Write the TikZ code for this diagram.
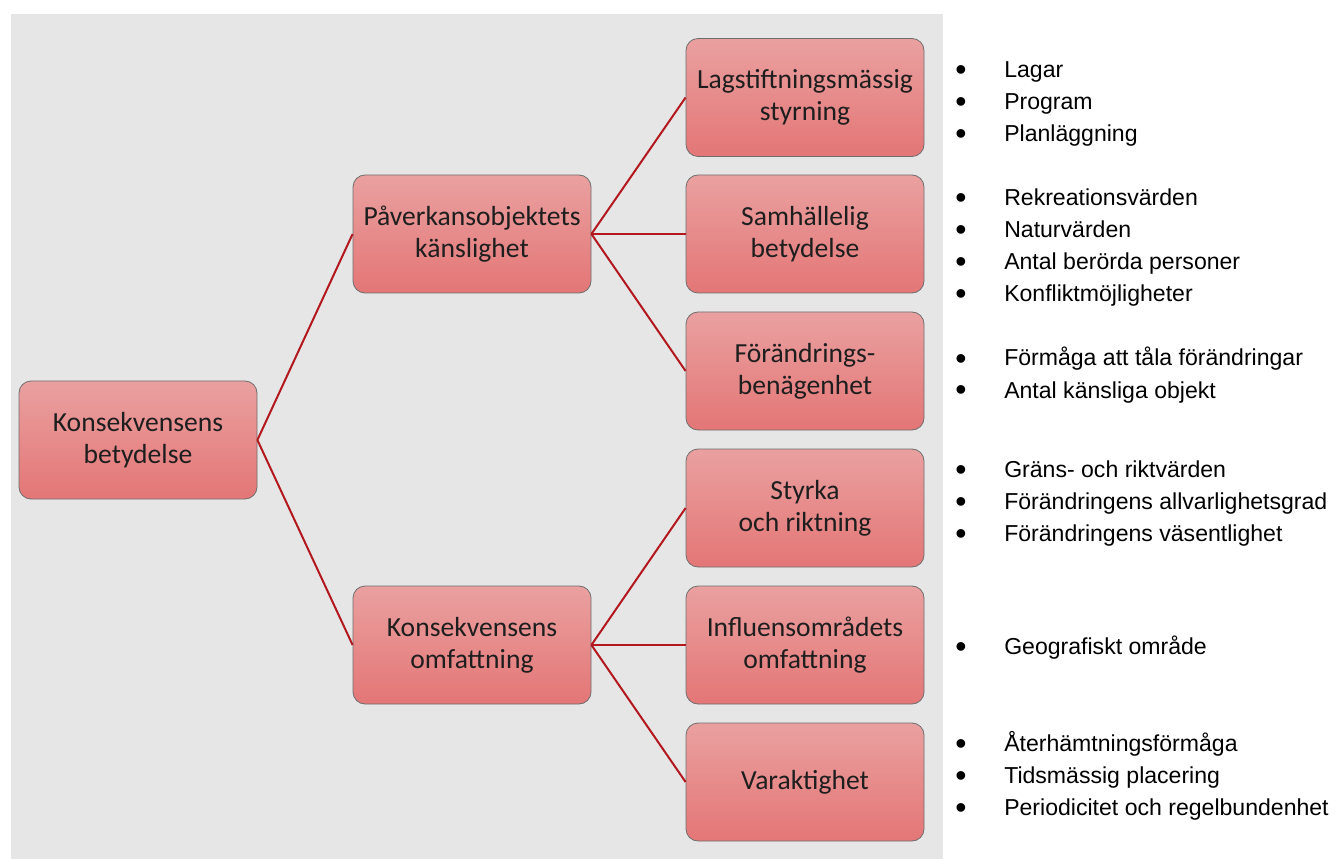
\documentclass[tikz,border=0pt]{standalone}
\usepackage{fontspec}
\setmainfont{Carlito}
\newfontfamily\arialf{Liberation Sans}
\definecolor{bgray}{RGB}{230,230,230}
\definecolor{boxtop}{RGB}{234,160,160}
\definecolor{boxbot}{RGB}{228,118,118}
\definecolor{boxline}{RGB}{110,110,110}
\definecolor{linkred}{RGB}{178,24,30}
\definecolor{boxtext}{RGB}{30,30,30}
\begin{document}
\begin{tikzpicture}[x=0.75pt,y=-0.75pt,
 box/.style={rectangle, rounded corners=9pt, draw=boxline, line width=0.6pt, top color=boxtop, bottom color=boxbot, minimum width=178.5pt, minimum height=88.5pt, inner sep=0pt, align=center, font=\fontsize{20.7}{24.3}\selectfont, text=boxtext},
 link/.style={draw=linkred, line width=1.5pt},
 item/.style={anchor=base west, inner sep=0pt, font=\arialf\fontsize{17.3}{20}\selectfont},
 dot/.style={anchor=base, inner sep=0pt, font=\arialf\fontsize{24}{26}\selectfont}]
\useasboundingbox (0,0) rectangle (1343,859);
\fill[bgray] (11,14) rectangle (943,859);
\node[box] (root) at (138,440) {Konsekvensens\\betydelse};
\node[box] (p1) at (472,234) {Påverkansobjektets\\känslighet};
\node[box] (p2) at (472,645) {Konsekvensens\\omfattning};
\node[box] (c1) at (805,97.5) {Lagstiftningsmässig\\styrning};
\node[box] (c2) at (805,234) {Samhällelig\\betydelse};
\node[box] (c3) at (805,371) {Förändrings-\\benägenhet};
\node[box] (c4) at (805,508) {Styrka\\och riktning};
\node[box] (c5) at (805,645) {Influensområdets\\omfattning};
\node[box] (c6) at (805,782) {Varaktighet};
\draw[link] (root.east) -- (p1.west);
\draw[link] (root.east) -- (p2.west);
\draw[link] (p1.east) -- (c1.west);
\draw[link] (p1.east) -- (c2.west);
\draw[link] (p1.east) -- (c3.west);
\draw[link] (p2.east) -- (c4.west);
\draw[link] (p2.east) -- (c5.west);
\draw[link] (p2.east) -- (c6.west);
\foreach \yy/\txt [count=\i] in {78/Lagar, 110/Program, 142/Planläggning,
  206/Rekreationsvärden, 238/Naturvärden, 270/Antal berörda personer, 302/Konfliktmöjligheter,
  366/Förmåga att tåla förändringar, 398/Antal känsliga objekt,
  477/Gräns- och riktvärden, 509/Förändringens allvarlighetsgrad, 541/Förändringens väsentlighet,
  654/Geografiskt område,
  751/Återhämtningsförmåga, 783/Tidsmässig placering, 815/Periodicitet och regelbundenhet}{
  \node[dot] (b\i) at (961,\yy+3) {\textbullet};
  \node[item] (t\i) at (1004,\yy) {\txt};
}
\end{tikzpicture}
\end{document}
